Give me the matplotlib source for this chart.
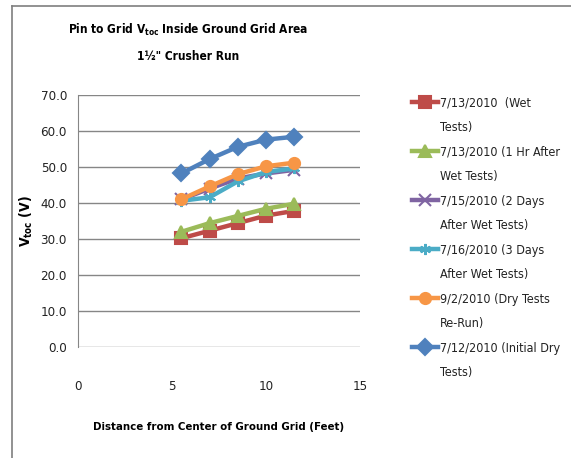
import matplotlib
matplotlib.use('Agg')
import matplotlib.pyplot as plt
from matplotlib.lines import Line2D

plt.rcParams['font.family'] = ['DejaVu Sans']
plt.rcParams['font.stretch'] = 'condensed'

# distance from center of the ground grid (feet)
distance = [5.5, 7.0, 8.5, 10.0, 11.5]

# pin to grid Vtoc (V) for each test date
wet_0713 = [30.2, 32.3, 34.4, 36.5, 37.8]
after1hr_0713 = [32.0, 34.4, 36.4, 38.4, 39.8]
days2_0715 = [41.0, 44.0, 46.8, 48.2, 49.2]
days3_0716 = [40.6, 41.6, 46.0, 48.6, 49.6]
dry_rerun_0902 = [41.0, 44.6, 48.0, 50.2, 51.2]
initial_dry_0712 = [48.2, 52.2, 55.6, 57.6, 58.4]

series = [
    (wet_0713, '#BE4B48', 's', ('7/13/2010  (Wet', 'Tests)')),
    (after1hr_0713, '#9BBB59', '^', ('7/13/2010 (1 Hr After', 'Wet Tests)')),
    (days2_0715, '#7F64A2', 'x', ('7/15/2010 (2 Days', 'After Wet Tests)')),
    (days3_0716, '#4BACC6', (6, 2, 0), ('7/16/2010 (3 Days', 'After Wet Tests)')),
    (dry_rerun_0902, '#F79646', 'o', ('9/2/2010 (Dry Tests', 'Re-Run)')),
    (initial_dry_0712, '#4F81BD', 'D', ('7/12/2010 (Initial Dry', 'Tests)')),
]

fig = plt.figure(figsize=(5.71, 4.58), dpi=100)
ax = fig.add_axes([0.1366, 0.2424, 0.4939, 0.5502])

handles, labels = [], []
for vals, col, mk, lab in series:
    ln, = ax.plot(distance, vals, color=col, lw=3.2, marker=mk, ms=8,
                  markeredgewidth=1.5, markeredgecolor=col, markerfacecolor=col)
    handles += [ln, Line2D([], [], linestyle='none')]
    labels += list(lab)

ax.set_xlim(0, 15)
ax.set_ylim(0, 70)
ax.set_xticks([0, 5, 10, 15])
ax.set_yticks(range(0, 80, 10))
ax.set_yticklabels([f'{v:.1f}' for v in range(0, 80, 10)])
ax.yaxis.grid(True, color='#868686', lw=1)
ax.set_axisbelow(True)
for s in ['top', 'right', 'bottom']:
    ax.spines[s].set_visible(False)
ax.spines['left'].set_color('#868686')
ax.tick_params(axis='both', length=0, labelsize=9.5, colors='#222222')
ax.tick_params(axis='x', pad=24)
ax.tick_params(axis='y', pad=8)

ax.set_xlabel('Distance from Center of Ground Grid (Feet)', fontsize=8.2,
              fontweight='bold', labelpad=21)
ax.set_ylabel(r'V$_{\mathregular{toc}}$ (V)', fontsize=10, fontweight='bold',
              labelpad=4)

fig.text(0.33, 0.935, r'Pin to Grid V$_{\mathregular{toc}}$ Inside Ground Grid Area',
         ha='center', va='center', fontsize=8.6, fontweight='bold')
fig.text(0.33, 0.876, '1\u00bd" Crusher Run', ha='center', va='center',
         fontsize=8.6, fontweight='bold')

fig.legend(handles, labels, loc='upper left', bbox_to_anchor=(0.7215, 0.789),
           frameon=False, fontsize=9, handlelength=2.1, handletextpad=0.15,
           labelspacing=0.92, borderpad=0, borderaxespad=0, labelcolor='#222222')

# chart border along the top and left edges
fig.add_artist(Line2D([0.021, 1.0], [0.987, 0.987], color='#7F7F7F', lw=1.2))
fig.add_artist(Line2D([0.021, 0.021], [0.0, 0.987], color='#7F7F7F', lw=1.2))

fig.savefig('out.png', dpi=100)
